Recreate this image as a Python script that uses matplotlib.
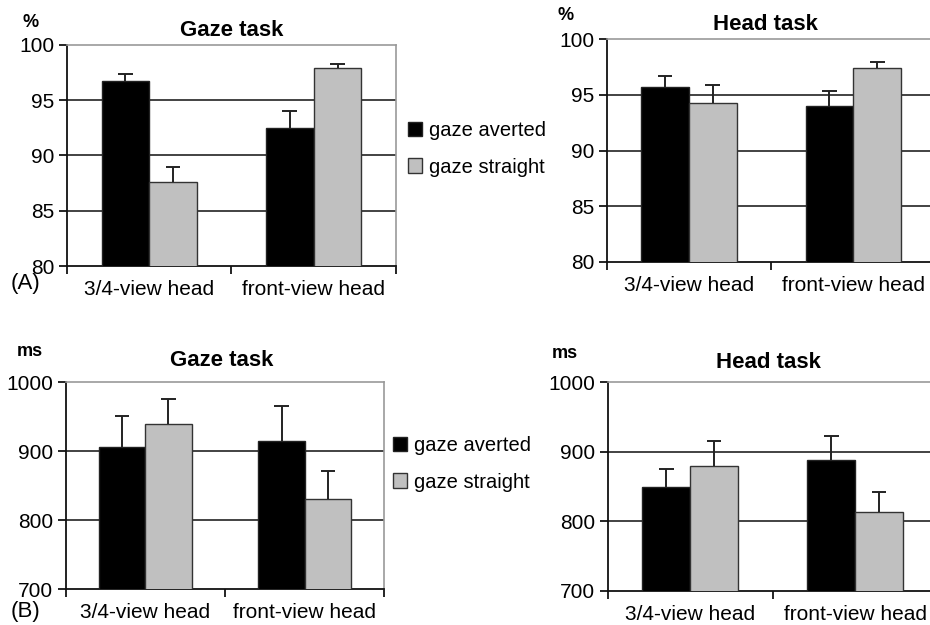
import numpy as np
import matplotlib
matplotlib.use("Agg")
import matplotlib.pyplot as plt
from matplotlib.patches import Patch

plt.rcParams['font.family'] = ['Liberation Sans', 'DejaVu Sans']

categories = ['3/4-view head', 'front-view head']
series_names = ['gaze averted', 'gaze straight']

# (A) accuracy, %
acc_gaze_averted = [96.7, 92.5]
acc_gaze_averted_err = [0.7, 1.5]
acc_gaze_straight = [87.6, 97.9]
acc_gaze_straight_err = [1.4, 0.4]
acc_head_averted = [95.7, 94.0]
acc_head_averted_err = [1.0, 1.35]
acc_head_straight = [94.3, 97.45]
acc_head_straight_err = [1.6, 0.55]

# (B) reaction times, ms
rt_gaze_averted = [906, 915]
rt_gaze_averted_err = [45, 50]
rt_gaze_straight = [939, 830]
rt_gaze_straight_err = [36, 41]
rt_head_averted = [850, 888]
rt_head_averted_err = [25, 34]
rt_head_straight = [880, 813]
rt_head_straight_err = [36, 29]

BLACK = '#000000'
GREY = '#c0c0c0'
W = 0.29
CAP = 0.045


def upper_err(ax, x, vals, err):
	# one-sided error bar: stem up from the bar top, cap at the end only
	vals = np.asarray(vals, float)
	top = vals + np.asarray(err, float)
	ax.vlines(x, vals, top, color='#222222', lw=1.4, zorder=4)
	ax.hlines(top, x - CAP, x + CAP, color='#222222', lw=1.4, zorder=4)


def draw_panel(ax, averted, a_err, straight, s_err, ylim, yticks):
	x = np.arange(len(categories))
	ax.bar(x - W / 2, averted, W, color=BLACK, edgecolor='#222222', linewidth=1, zorder=3)
	ax.bar(x + W / 2, straight, W, color=GREY, edgecolor='#333333', linewidth=1, zorder=3)
	upper_err(ax, x - W / 2, averted, a_err)
	upper_err(ax, x + W / 2, straight, s_err)
	ax.set_xlim(-0.5, 1.5)
	ax.set_ylim(*ylim)
	ax.set_yticks(yticks)
	ax.tick_params(axis='y', labelsize=15, length=6, width=1.2, pad=3, direction='out')
	for v in yticks[1:-1]:
		ax.axhline(v, color='#222222', lw=1.2, zorder=1)
	# category boundaries get the tick marks, names sit under the centres
	ax.set_xticks([-0.5, 0.5, 1.5])
	ax.set_xticklabels([])
	ax.tick_params(axis='x', which='major', length=6, width=1.2, direction='out')
	ax.set_xticks(x, minor=True)
	ax.set_xticklabels(categories, minor=True)
	ax.tick_params(axis='x', which='minor', length=0, labelsize=15, pad=10)
	for s in ['left', 'bottom']:
		ax.spines[s].set_color('#111111')
		ax.spines[s].set_linewidth(1.3)
	for s in ['top', 'right']:
		ax.spines[s].set_color('#999999')
		ax.spines[s].set_linewidth(1.2)


fig = plt.figure(figsize=(9.3, 6.25), dpi=100)

ax1 = fig.add_axes([0.072, 0.5744, 0.3538, 0.3536])
ax2 = fig.add_axes([0.6524, 0.5813, 0.3535, 0.3558])
ax3 = fig.add_axes([0.0706, 0.0571, 0.3426, 0.3317])
ax4 = fig.add_axes([0.6534, 0.0544, 0.3548, 0.3344])

draw_panel(ax1, acc_gaze_averted, acc_gaze_averted_err, acc_gaze_straight,
	acc_gaze_straight_err, (80, 100), [80, 85, 90, 95, 100])
draw_panel(ax2, acc_head_averted, acc_head_averted_err, acc_head_straight,
	acc_head_straight_err, (80, 100), [80, 85, 90, 95, 100])
draw_panel(ax3, rt_gaze_averted, rt_gaze_averted_err, rt_gaze_straight,
	rt_gaze_straight_err, (700, 1000), [700, 800, 900, 1000])
draw_panel(ax4, rt_head_averted, rt_head_averted_err, rt_head_straight,
	rt_head_straight_err, (700, 1000), [700, 800, 900, 1000])


def px(x, y):
	return x / 930, 1 - y / 625


# titles and units
for (x, y), t in [((232, 31), 'Gaze task'), ((765, 24.5), 'Head task'),
		((222, 361), 'Gaze task'), ((768, 363), 'Head task')]:
	fig.text(*px(x, y), t, ha='center', va='center', fontsize=16, fontweight='bold')
for (x, y), t in [((31, 22.5), '%'), ((566, 15.5), '%'),
		((30, 352), 'ms'), ((565, 353.5), 'ms')]:
	fig.text(*px(x, y), t, ha='center', va='center', fontsize=13, fontweight='bold')
fig.text(*px(25, 284), '(A)', ha='center', va='center', fontsize=16)
fig.text(*px(25, 612), '(B)', ha='center', va='center', fontsize=16)

handles = [Patch(facecolor=BLACK, edgecolor='#222222'),
	Patch(facecolor=GREY, edgecolor='#333333')]
for ax, (x, y) in [(ax1, (408, 149)), (ax3, (393, 464))]:
	ax.legend(handles, series_names, loc='center left', bbox_to_anchor=px(x, y),
		bbox_transform=fig.transFigure, frameon=False, fontsize=14.5,
		handlelength=0.7, handleheight=0.7, handletextpad=0.35,
		labelspacing=0.85, borderpad=0, borderaxespad=0)

fig.savefig('out.png', dpi=100)
